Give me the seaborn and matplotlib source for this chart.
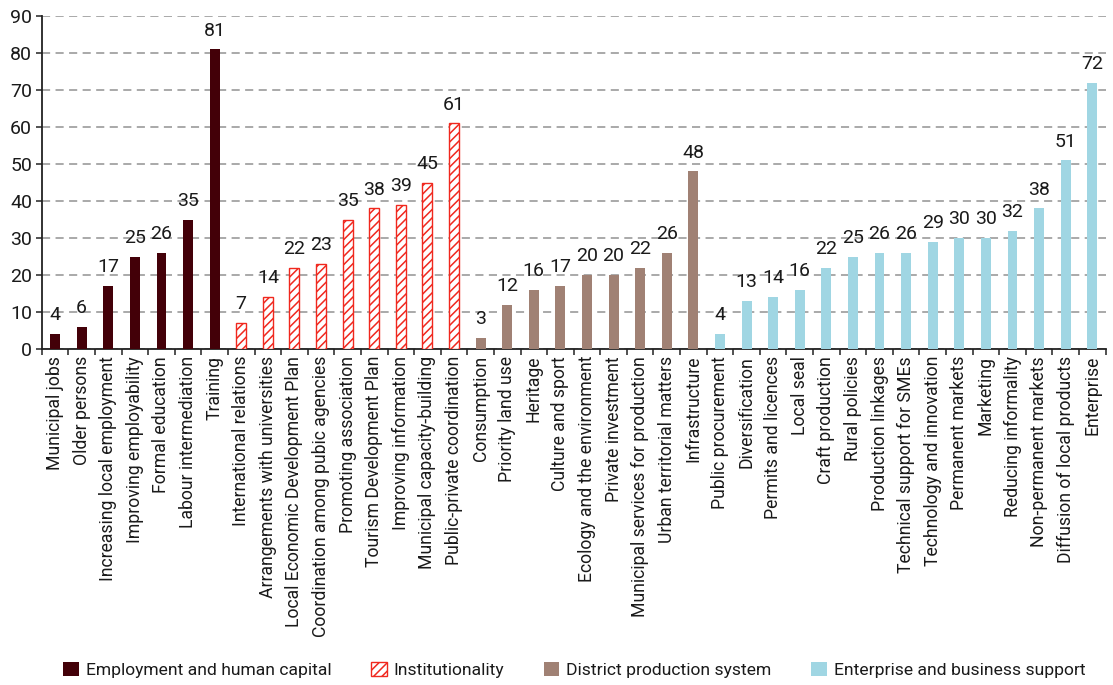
import matplotlib
matplotlib.use("Agg")
import matplotlib.pyplot as plt
import seaborn as sns
import pandas as pd
from matplotlib.patches import Patch

# Policy areas and the share of municipalities pursuing each one
groups = ["Employment and human capital", "Institutionality",
          "District production system", "Enterprise and business support"]

employment_items = ["Municipal jobs", "Older persons", "Increasing local employment",
                    "Improving employability", "Formal education",
                    "Labour intermediation", "Training"]
employment_values = [4, 6, 17, 25, 26, 35, 81]

institution_items = ["International relations", "Arrangements with universities",
                     "Local Economic Development Plan",
                     "Coordination among pubic agencies", "Promoting association",
                     "Tourism Development Plan", "Improving information",
                     "Municipal capacity-building", "Public-private coordination"]
institution_values = [7, 14, 22, 23, 35, 38, 39, 45, 61]

district_items = ["Consumption", "Priority land use", "Heritage", "Culture and sport",
                  "Ecology and the environment", "Private investment",
                  "Municipal services for production", "Urban territorial matters",
                  "Infrastructure"]
district_values = [3, 12, 16, 17, 20, 20, 22, 26, 48]

enterprise_items = ["Public procurement", "Diversification", "Permits and licences",
                    "Local seal", "Craft production", "Rural policies",
                    "Production linkages", "Technical support for SMEs",
                    "Technology and innovation", "Permanent markets", "Marketing",
                    "Reducing informality", "Non-permanent markets",
                    "Diffusion of local products", "Enterprise"]
enterprise_values = [4, 13, 14, 16, 22, 25, 26, 26, 29, 30, 30, 32, 38, 51, 72]

y_ticks = [0, 10, 20, 30, 40, 50, 60, 70, 80, 90]

colors = {"Employment and human capital": "#430008",
          "Institutionality": "#ffffff",
          "District production system": "#a08174",
          "Enterprise and business support": "#a0d6e3"}
hatch_red = "#f0281e"

frames = []
for g, items, vals in zip(groups,
                          [employment_items, institution_items, district_items, enterprise_items],
                          [employment_values, institution_values, district_values, enterprise_values]):
    frames.append(pd.DataFrame({"item": items, "value": vals, "group": g}))
df = pd.concat(frames, ignore_index=True)

sns.set_theme(style="white")
plt.rcParams["font.family"] = ["Roboto", "DejaVu Sans"]
plt.rcParams["hatch.linewidth"] = 1.1
plt.rcParams["text.color"] = "#1a1a1a"
plt.rcParams["xtick.color"] = "#1a1a1a"
plt.rcParams["ytick.color"] = "#1a1a1a"

fig = plt.figure(figsize=(11.13, 6.85), dpi=100)
ax = fig.add_axes([0.0375, 0.4905, 0.9559, 0.4861])

sns.barplot(data=df, x="item", y="value", hue="group", hue_order=groups,
            palette=colors, dodge=False, width=0.37, saturation=1,
            legend=False, ax=ax, zorder=3)

# Institutionality bars are drawn as red diagonal hatching on white
for grp, cont in zip(groups, ax.containers):
    if grp == "Institutionality":
        for p in cont.patches:
            p.set_facecolor("white")
            p.set_edgecolor(hatch_red)
            p.set_hatch("////")
            p.set_linewidth(1.0)
    else:
        for p in cont.patches:
            p.set_linewidth(0)
    ax.bar_label(cont, fmt="%d", padding=7, fontsize=14, color="#1a1a1a")

n = len(df)
ax.set_xlim(-0.5, n - 0.5)
ax.set_ylim(0, 90)
ax.set_yticks(y_ticks)
ax.set_xlabel("")
ax.set_ylabel("")

ax.yaxis.grid(True, color="#a3a3a3", linestyle=(0, (4.5, 3)), linewidth=1.3, zorder=0)
ax.set_axisbelow(True)

for side in ["top", "right"]:
    ax.spines[side].set_visible(False)
for side in ["left", "bottom"]:
    ax.spines[side].set_color("#222222")
    ax.spines[side].set_linewidth(1.3)

ax.tick_params(axis="y", which="major", length=4, width=1.1, color="#222222",
               labelsize=14, pad=3, left=True)
ax.set_xticks(range(n))
ax.set_xticklabels(df["item"], rotation=90, fontsize=12.7)
ax.tick_params(axis="x", which="major", length=0, pad=5)
ax.set_xticks([i - 0.5 for i in range(n + 1)], minor=True)
ax.tick_params(axis="x", which="minor", length=4, width=1.1, color="#222222",
               bottom=True)

handles = []
for g in groups:
    if g == "Institutionality":
        handles.append(Patch(facecolor="white", edgecolor=hatch_red, hatch="////", lw=1.0))
    else:
        handles.append(Patch(facecolor=colors[g], edgecolor="none"))
fig.legend(handles, groups, loc="center", bbox_to_anchor=(0.516, 0.022),
           ncol=4, frameon=False, fontsize=12.6, handlelength=0.9, handleheight=0.9,
           handletextpad=0.4, columnspacing=2.25, borderpad=0, borderaxespad=0)

fig.savefig("out.png", dpi=100)
